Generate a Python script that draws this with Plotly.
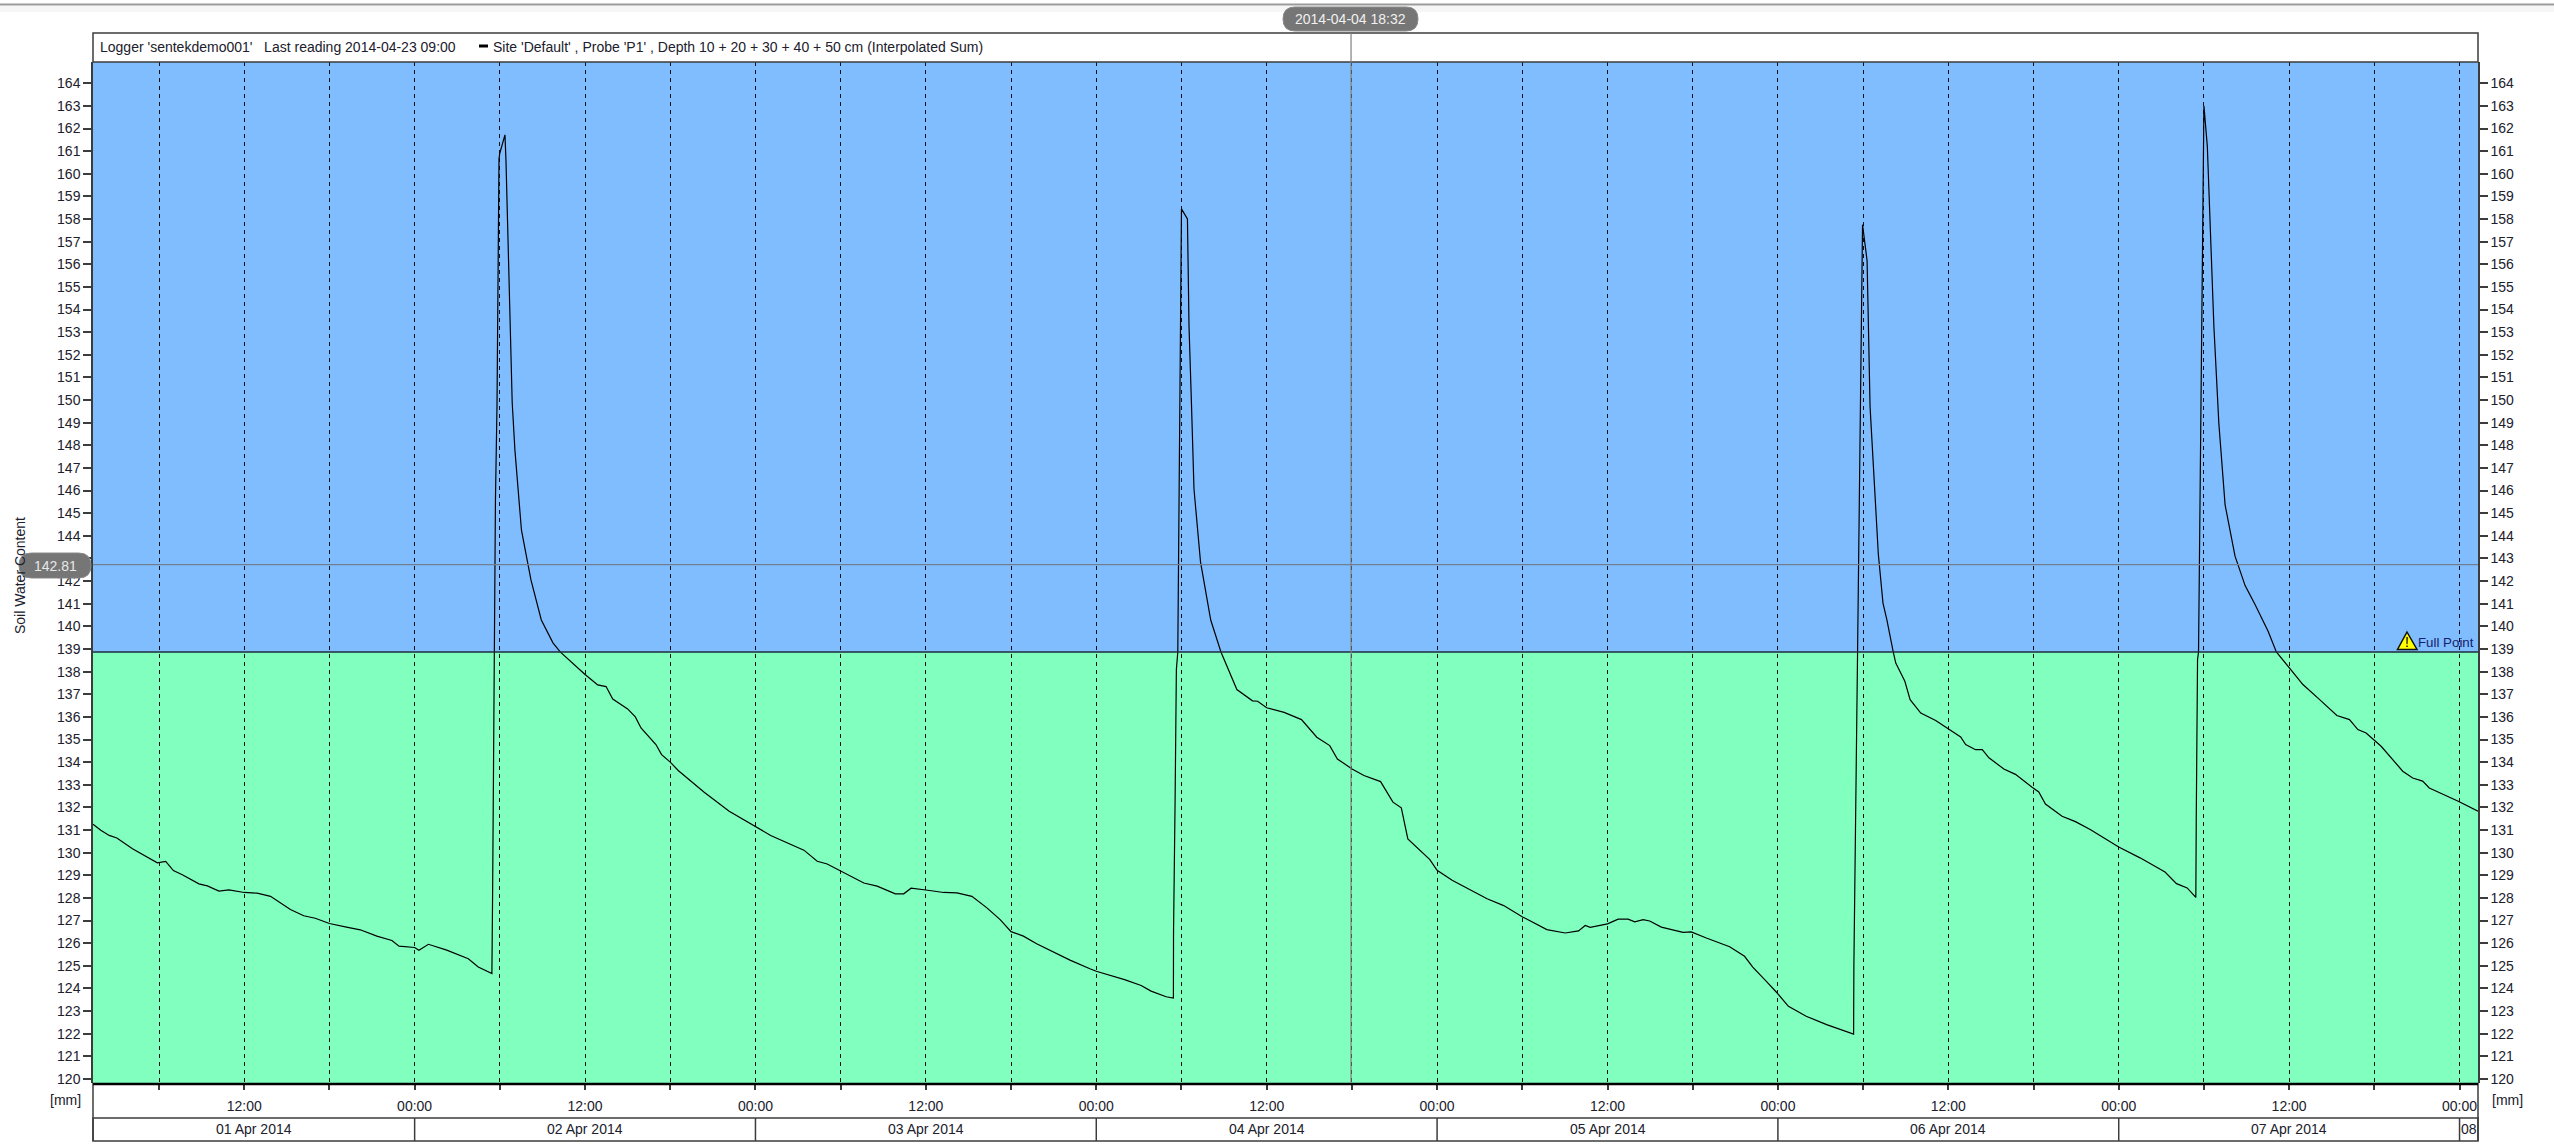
import pandas as pd
import plotly.graph_objects as go

# ---------- data ----------
START = pd.Timestamp("2014-04-01 00:00")
RANGE_HOURS = [1.35, 169.3]
Y_RANGE = [119.82, 164.94]
FULL_POINT = 138.87
CROSS_HOUR = 89.94
CROSS_VALUE = 142.73
CROSS_TIME_LABEL = "2014-04-04 18:32"
CROSS_VALUE_LABEL = "142.81"

HOURS_1 = [1.35, 1.9, 2.49, 3.03, 4.13, 5.18, 5.88, 6.47, 7.01, 7.64, 8.81, 9.4, 10.22, 10.92, 12, 12.91, 13.85,
           15.25, 16.19, 17.0, 18, 19.2, 20.17, 21.34, 22.4, 22.9, 24, 24.3, 24.97, 26.26, 27.78, 28.48, 29.44,
           29.49, 29.58, 29.69, 29.80, 29.92, 29.94, 30.0, 30.36, 30.43, 30.52, 30.59, 30.71, 30.78, 30.87,
           31.06, 31.27, 31.52, 31.84, 32.19, 32.92, 33.74, 34.25, 34.52, 35.46, 36]
VALUES_1 = [131.26, 130.99, 130.76, 130.65, 130.17, 129.78, 129.55, 129.61, 129.21, 129.02, 128.62, 128.53, 128.30,
            128.35, 128.24, 128.21, 128.07, 127.49, 127.21, 127.10, 126.87, 126.71, 126.59, 126.31, 126.12, 125.87,
            125.81, 125.69, 125.95, 125.69, 125.31, 124.95, 124.66,
            128.21, 135.42, 145.59, 149.78, 156.94, 160.66, 160.92, 161.72, 160.61, 158.49, 156.34, 154.13, 152.04,
            149.89, 147.8, 146.07, 144.26, 143.2, 142.05, 140.28, 139.27, 138.87, 138.71, 138.16, 137.87]

HOURS_2 = [36.43, 36.89, 37.48, 37.95, 39.0, 39.54, 39.94, 40.99, 41.39, 42, 42.56, 44.39, 46.15, 48, 49.07, 51.41,
           52.35, 53.05, 54, 55.63, 56.57, 57.85, 58.44, 58.96, 60, 61.25, 62.19, 63.24, 64.3, 65.23, 66, 66.87,
           67.8, 70.15, 71.55]
VALUES_2 = [137.65, 137.41, 137.34, 136.79, 136.35, 136.0, 135.51, 134.78, 134.33, 134.0, 133.63, 132.67, 131.83,
            131.17, 130.76, 130.11, 129.62, 129.5, 129.18, 128.66, 128.52, 128.18, 128.18, 128.43, 128.35, 128.24,
            128.22, 128.07, 127.56, 127.04, 126.51, 126.31, 125.97, 125.25, 124.87]

HOURS_3 = [72, 73.99, 75.16, 75.86, 76.92, 77.43, 77.44, 77.55, 77.64, 77.74, 78.0, 78.42, 78.53, 78.71, 78.88, 79.34,
           80.06, 80.78, 81.9, 83.0, 83.36, 84, 85.23, 86.45, 87.53, 88.44, 88.98, 90.01, 90.85, 92.02, 92.89, 93.48,
           93.94, 95.49, 96, 97.06, 99.52, 100.69, 102.02, 103.73, 105.02, 105.96, 106.43, 106.78]
VALUES_3 = [124.76, 124.39, 124.13, 123.88, 123.63, 123.57, 126.48, 132.27, 138.09, 138.87, 158.45, 158.0, 153.27,
            149.7, 146.07, 142.85, 140.28, 138.87, 137.21, 136.71, 136.69, 136.4, 136.2, 135.88, 135.1, 134.73,
            134.14, 133.7, 133.41, 133.14, 132.23, 131.98, 130.61, 129.69, 129.22, 128.78, 127.96, 127.66, 127.16,
            126.6, 126.45, 126.54, 126.78, 126.7]

HOURS_4 = [108, 108.75, 109.45, 109.92, 110.51, 110.97, 111.79, 113.32, 113.9, 114.96, 116.6, 117.65, 118.23, 119.17,
           119.9, 120.74, 121.99, 123.43, 125.33, 125.35, 125.45, 125.54, 125.61, 125.96, 126.28, 126.49, 126.84,
           127.07, 127.4, 127.67, 128.12, 128.3, 128.94, 129.31, 130.06, 131.11, 131.91, 132.87, 133.22, 133.92,
           134.39, 134.86, 135.91, 136.73, 137.9, 138.37, 138.84, 140.01, 140.95]
VALUES_4 = [126.85, 127.06, 127.06, 126.94, 127.04, 126.98, 126.71, 126.48, 126.5, 126.23, 125.84, 125.42, 124.94,
            124.32, 123.83, 123.21, 122.77, 122.4, 121.98, 124.98, 130.95, 136.91, 138.87, 157.75, 156.16, 149.7,
            146.07, 143.2, 141.03, 140.3, 138.87, 138.38, 137.57, 136.76, 136.17, 135.84, 135.51, 135.11, 134.78,
            134.55, 134.55, 134.19, 133.7, 133.46, 132.89, 132.68, 132.15, 131.61, 131.37]

HOURS_5 = [141.99, 144, 145.5, 147.26, 148.07, 148.82, 149.43, 149.46, 149.55, 149.62, 150.0, 150.24, 150.47, 150.7,
           151.05, 151.49, 152.19, 152.9, 153.6, 154.09, 154.52, 155.1, 155.92, 156.97, 158.15, 159.36, 160.25, 160.84,
           161.42, 161.92, 162.48, 164.0, 164.7, 165.4, 165.87, 167.91, 169.3]
VALUES_5 = [131.02, 130.25, 129.77, 129.14, 128.63, 128.44, 128.02, 131.51, 138.53, 138.87, 163.0, 161.2, 156.9,
            153.27, 148.97, 145.37, 143.1, 141.8, 140.97, 140.3, 139.78, 138.87, 138.24, 137.43, 136.76, 136.06, 135.88,
            135.44, 135.29, 135.0, 134.7, 133.6, 133.3, 133.16, 132.86, 132.27, 131.83]

HOURS = HOURS_1 + HOURS_2 + HOURS_3 + HOURS_4 + HOURS_5
VALUES = VALUES_1 + VALUES_2 + VALUES_3 + VALUES_4 + VALUES_5

TICK_HOURS = [6 * k for k in range(1, 29)]
DAY_LABELS = ["01 Apr 2014", "02 Apr 2014", "03 Apr 2014", "04 Apr 2014", "05 Apr 2014", "06 Apr 2014", "07 Apr 2014", "08"]
Y_TICKS = list(range(120, 165))
LEGEND_LEFT = "Logger 'sentekdemo001'   Last reading 2014-04-23 09:00"
LEGEND_SERIES = "Site 'Default' , Probe 'P1' , Depth 10 + 20 + 30 + 40 + 50 cm (Interpolated Sum)"
Y_TITLE = "Soil Water Content"
UNIT = "[mm]"
FULL_LABEL = "Full Point"

# ---------- style ----------
W, H = 2554, 1147
L, R, T, B = 93, 2478, 62, 1083
FONT = "Liberation Sans"
TXT = "#20202c"
EDGE = "#3c3c3c"
BLUE = "#80BDFF"
GREEN = "#80FFBF"
PILL = "#767676"


def t(h):
    return START + pd.Timedelta(hours=h)


def px(x):
    return (x - L) / (R - L)


def py(y):
    return (B - y) / (B - T)


def pill(x0, x1, y0, y1):
    r = (y1 - y0) / 2
    return (f"M {px(x0 + r)} {py(y0)} L {px(x1 - r)} {py(y0)} "
            f"Q {px(x1)} {py(y0)} {px(x1)} {py((y0 + y1) / 2)} Q {px(x1)} {py(y1)} {px(x1 - r)} {py(y1)} "
            f"L {px(x0 + r)} {py(y1)} Q {px(x0)} {py(y1)} {px(x0)} {py((y0 + y1) / 2)} "
            f"Q {px(x0)} {py(y0)} {px(x0 + r)} {py(y0)} Z")


def note(text, x, y, size=14, color=TXT, anchor="center", **kw):
    return dict(text=text, x=px(x), y=py(y), xref="paper", yref="paper", showarrow=False,
                xanchor=anchor, yanchor="middle", font=dict(family=FONT, size=size, color=color), **kw)


times = [t(h) for h in HOURS]
x_range = [t(RANGE_HOURS[0]), t(RANGE_HOURS[1])]

fig = go.Figure()
fig.add_trace(go.Scatter(x=times, y=VALUES, mode="lines", line=dict(color="#000000", width=1.2),
                         hoverinfo="skip", showlegend=False))
fig.add_trace(go.Scatter(x=times, y=VALUES, mode="lines", yaxis="y2", opacity=0, line=dict(width=0),
                         hoverinfo="skip", showlegend=False))

shapes = [
    # page shadow at the top
    dict(type="rect", xref="paper", yref="paper", x0=-1, x1=2, y0=py(6), y1=py(12), fillcolor="#f6f6f6", line_width=0),
    dict(type="line", xref="paper", yref="paper", x0=-1, x1=2, y0=py(4.5), y1=py(4.5), line=dict(color="#9a9a9a", width=2)),
    # bands
    dict(type="rect", xref="paper", yref="y", x0=0, x1=1, y0=FULL_POINT, y1=Y_RANGE[1], fillcolor=BLUE, line_width=0, layer="below"),
    dict(type="rect", xref="paper", yref="y", x0=0, x1=1, y0=Y_RANGE[0], y1=FULL_POINT, fillcolor=GREEN, line_width=0, layer="below"),
    dict(type="line", xref="paper", yref="y", x0=0, x1=1, y0=FULL_POINT, y1=FULL_POINT, line=dict(color="#1c2c3c", width=1.5)),
    # header box
    dict(type="rect", xref="paper", yref="paper", x0=0, x1=1, y0=py(62), y1=py(33), fillcolor="#ffffff", line=dict(color=EDGE, width=1.5)),
    dict(type="line", xref="paper", yref="paper", x0=px(479), x1=px(488), y0=py(46), y1=py(46), line=dict(color="#000000", width=3)),
    # axis rows
    dict(type="rect", xref="paper", yref="paper", x0=0, x1=1, y0=py(1141), y1=py(1118), line=dict(color=EDGE, width=1.5)),
    dict(type="line", xref="paper", yref="paper", x0=0, x1=0, y0=py(1141), y1=py(1083), line=dict(color=EDGE, width=1.5)),
    dict(type="line", xref="paper", yref="paper", x0=1, x1=1, y0=py(1141), y1=py(1083), line=dict(color=EDGE, width=1.5)),
    dict(type="line", xref="paper", yref="paper", x0=0, x1=1, y0=py(1084), y1=py(1084), line=dict(color="#000000", width=2.5)),
    # crosshair
    dict(type="line", xref="x", yref="paper", x0=t(CROSS_HOUR), x1=t(CROSS_HOUR), y0=0, y1=py(33), line=dict(color="#808080", width=1.2)),
    dict(type="line", xref="paper", yref="y", x0=0, x1=1, y0=CROSS_VALUE, y1=CROSS_VALUE, line=dict(color="#6f7f8f", width=1.2)),
    dict(type="path", xref="paper", yref="paper", path=pill(1283, 1418, 7, 31), fillcolor=PILL, line=dict(color="#8a8a8a", width=1)),
    dict(type="path", xref="paper", yref="paper", path=pill(19, 91, 553, 578), fillcolor=PILL, line=dict(color="#8a8a8a", width=1)),
    # full point warning triangle
    dict(type="path", xref="paper", yref="paper",
         path=f"M {px(2407)} {py(632)} L {px(2417)} {py(649.5)} L {px(2397.5)} {py(649.5)} Z",
         fillcolor="#ffff00", line=dict(color="#101010", width=1.5)),
]

# day separators in the date row
for d in range(1, 8):
    shapes.append(dict(type="line", xref="x", yref="paper", x0=t(24 * d), x1=t(24 * d), y0=py(1141), y1=py(1118),
                       line=dict(color=EDGE, width=1.5)))

annotations = [
    note(LEGEND_LEFT, 97.5, 47, anchor="left"),
    note(LEGEND_SERIES, 491, 47, anchor="left"),
    note(Y_TITLE, 20, 576, size=14, textangle=-90),
    note(UNIT, 65.5, 1100, size=14),
    note(UNIT, 2507, 1100, size=14),
    note(FULL_LABEL, 2476, 642, size=13.3, color="#16206a", anchor="right"),
    note("!", 2407, 642, size=14, color="#000000"),
    note(CROSS_TIME_LABEL, 1350.5, 19, size=14, color="#f0f0f0"),
    note(CROSS_VALUE_LABEL, 55, 565.5, size=14, color="#e8e8e8", bgcolor=PILL, borderpad=3),
]

# date row labels, centred on the visible part of each day
for i, label in enumerate(DAY_LABELS):
    a = max(24 * i, RANGE_HOURS[0])
    b = min(24 * (i + 1), RANGE_HOURS[1])
    annotations.append(dict(text=label, x=t((a + b) / 2), y=py(1128.5), xref="x", yref="paper", showarrow=False,
                            xanchor="center", yanchor="middle", font=dict(family=FONT, size=14, color=TXT)))

y_axis = dict(range=Y_RANGE, tickmode="array", tickvals=Y_TICKS, ticktext=[str(v) for v in Y_TICKS],
              ticks="outside", ticklen=8, tickwidth=1.5, tickcolor=EDGE, showgrid=False, zeroline=False,
              showline=True, linecolor=EDGE, linewidth=1.5,
              tickfont=dict(family=FONT, size=14, color=TXT))

fig.update_layout(
    width=W, height=H, autosize=False,
    margin=dict(l=L, r=W - R, t=T, b=H - B, pad=0),
    paper_bgcolor="#ffffff", plot_bgcolor=GREEN, showlegend=False,
    font=dict(family=FONT, size=14, color=TXT),
    xaxis=dict(range=x_range, type="date", tickmode="array", tickvals=[t(h) for h in TICK_HOURS],
               ticktext=[("00:00" if h % 24 == 0 else "12:00" if h % 12 == 0 else "") for h in TICK_HOURS],
               ticks="outside", ticklen=6, tickwidth=1.5, tickcolor=EDGE, ticklabelstandoff=4,
               showgrid=True, gridcolor="#0a1018", griddash="4px,4px", gridwidth=1.3, zeroline=False,
               showline=False, tickangle=0, tickfont=dict(family=FONT, size=14, color=TXT)),
    yaxis=y_axis,
    yaxis2=dict(y_axis, overlaying="y", side="right", anchor="x"),
    shapes=shapes, annotations=annotations,
)

fig.write_html("out.html", config={"displayModeBar": False},
               post_script="document.body.style.margin='0';document.body.style.overflow='hidden';")
